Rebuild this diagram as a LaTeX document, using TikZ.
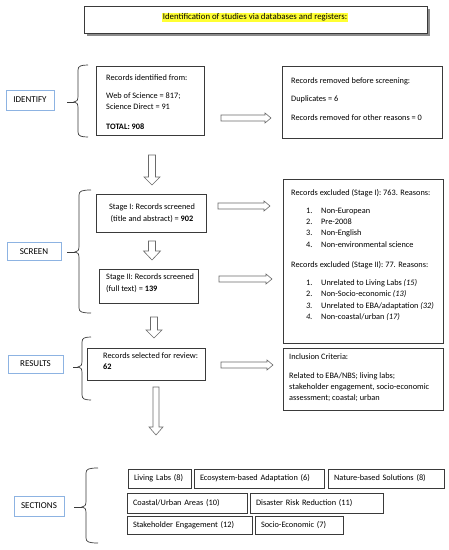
\documentclass[tikz,border=0pt]{standalone}
\usepackage{fontspec}
\setmainfont{Carlito}
\usetikzlibrary{calc}
\definecolor{lblblue}{HTML}{8DB3E2}
\definecolor{boxline}{HTML}{3A3A3A}
\definecolor{arrline}{HTML}{6A6A6A}
\definecolor{hl}{HTML}{FFFF33}
\newcommand\rblock[3]{% x1, x2, y
  \draw[blk] (#1,#3-3) -- (#2-6,#3-3) -- (#2-6,#3-5) -- (#2,#3) -- (#2-6,#3+5) -- (#2-6,#3+3) -- (#1,#3+3) -- cycle;}
\newcommand\dblock[6]{% xc, ytop, yhead, ytip, shaft half, head half
  \draw[blk] (#1-#5,#2) -- (#1+#5,#2) -- (#1+#5,#3) -- (#1+#6,#3) -- (#1,#4) -- (#1-#6,#3) -- (#1-#5,#3) -- cycle;}
\newcommand\wbrace[7]{% name, xv, ytop, ytip, ybot, xend, xline
  \coordinate (#1) at (#7,#4);
  \draw[brc] (#6,#3) .. controls ({#2+3},#3) and (#2,{#3+1}) .. (#2,{#3+5})
     -- (#2,{#4-6}) .. controls (#2,{#4-2}) and ({#2-1},#4) .. ({#2-4},#4)
     .. controls ({#2-1},#4) and (#2,{#4+2}) .. (#2,{#4+6})
     -- (#2,{#5-5}) .. controls (#2,{#5-1}) and ({#2+3},#5) .. (#6,#5);
  \draw[brc] (#1) -- ({#2-4},#4);}
\begin{document}
\begin{tikzpicture}[x=1pt,y=-1pt,
  box/.style={draw=boxline, line width=0.7pt, inner sep=0pt, fill=white},
  lbl/.style={draw=lblblue, line width=0.9pt, inner sep=0pt, font=\fontsize{9}{11}\selectfont},
  txt/.style={inner sep=0pt, font=\fontsize{8.3}{11}\selectfont, anchor=base west},
  ctxt/.style={inner sep=0pt, font=\fontsize{8.3}{11}\selectfont, anchor=base},
  sec/.style={draw=boxline, line width=0.7pt, inner xsep=6pt, inner ysep=0pt, align=left, font=\fontsize{8.3}{11}\selectfont},
  blk/.style={draw=arrline, line width=0.6pt, fill=white},
  brc/.style={draw=boxline, line width=0.7pt}]
\useasboundingbox (0,0) rectangle (449,550);
\fill[white] (0,0) rectangle (449,550);

% title
\fill[black!45] (86.5,8.5) rectangle (429.5,35.5);
\node[box, minimum width=343pt, minimum height=27pt] (title) at (255.5,19.5) {};
\node[fill=hl, inner xsep=0.5pt, inner ysep=0.8pt, font=\fontsize{8.8}{11}\selectfont] (titletxt) at (255,17.5) {Identification of studies via databases and registers:};

% identify
\node[lbl, minimum width=48pt, minimum height=20pt] (idl) at (30,100) {IDENTIFY};
\node[box, minimum width=108pt, minimum height=69pt] (rid) at (150,100.5) {};
\node[txt] (rid1) at (106,80.7) {Records identified from:};
\node[txt] (rid2) at (106,98.7) {Web of Science = 817;};
\node[txt] (rid3) at (106,109.7) {Science Direct = 91};
\node[txt] (rid4) at (106,129.7) {\textbf{TOTAL: 908}};
\node[box, minimum width=160pt, minimum height=72pt] (rrem) at (362,102) {};
\node[txt] (rrem1) at (291,83.7) {Records removed before screening:};
\node[txt] (rrem2) at (291,101.7) {Duplicates = 6};
\node[txt] (rrem3) at (291,120.7) {Records removed for other reasons = 0};
\wbrace{bid}{78}{65}{102}{137}{88}{67}

% screen
\node[lbl, minimum width=54pt, minimum height=18pt] (scl) at (34,251.7) {SCREEN};
\node[box, minimum width=110pt, minimum height=38pt] (s1) at (151,213) {};
\node[ctxt] (s1a) at (152,209.7) {Stage I: Records screened};
\node[ctxt] (s1b) at (152,221.7) {(title and abstract) = \textbf{902}};
\node[box, minimum width=99pt, minimum height=34pt] (s2) at (148.5,286) {};
\node[txt] (s2a) at (106,279.7) {Stage II: Records screened};
\node[txt] (s2b) at (106,291.7) {(full text) = \textbf{139}};
\node[box, minimum width=160pt, minimum height=164pt] (ex) at (363,261) {};
\node[txt] (exh1) at (291,195.7) {Records excluded (Stage I): 763. Reasons:};
\node[txt] (exn1) at (306,213.7) {1.};
\node[txt] (exi1) at (321,213.7) {Non-European};
\node[txt] (exn2) at (306,224.7) {2.};
\node[txt] (exi2) at (321,224.7) {Pre-2008};
\node[txt] (exn3) at (306,235.7) {3.};
\node[txt] (exi3) at (321,235.7) {Non-English};
\node[txt] (exn4) at (306,247.7) {4.};
\node[txt] (exi4) at (321,247.7) {Non-environmental science};
\node[txt] (exh2) at (291,267.7) {Records excluded (Stage II): 77. Reasons:};
\node[txt] (exm1) at (306,285.7) {1.};
\node[txt] (exj1) at (321,285.7) {Unrelated to Living Labs \textit{(15)}};
\node[txt] (exm2) at (306,296.7) {2.};
\node[txt] (exj2) at (321,296.7) {Non-Socio-economic \textit{(13)}};
\node[txt] (exm3) at (306,308.7) {\textit{3.}};
\node[txt] (exj3) at (321,308.7) {Unrelated to EBA/adaptation \textit{(32)}};
\node[txt] (exm4) at (306,319.7) {\textit{4.}};
\node[txt] (exj4) at (321,319.7) {Non-coastal/urban \textit{(17)}};
\wbrace{bsc}{79}{190}{252}{313}{91}{67}

% results
\node[lbl, minimum width=55pt, minimum height=18pt] (rsl) at (35.5,364) {RESULTS};
\node[box, minimum width=118pt, minimum height=32pt] (sel) at (146,364) {};
\node[txt] (sel1) at (103,358.7) {Records selected for review:};
\node[txt] (sel2) at (103,369.7) {\textbf{62}};
\node[box, minimum width=160pt, minimum height=62pt] (inc) at (363,379) {};
\node[txt] (inc1) at (289,359.7) {Inclusion Criteria:};
\node[txt] (inc2) at (289,378.7) {Related to EBA/NBS; living labs;};
\node[txt] (inc3) at (289,389.7) {stakeholder engagement, socio-economic};
\node[txt] (inc4) at (289,400.7) {assessment; coastal; urban};
\wbrace{brs}{82}{337}{367}{400}{91}{73}

% sections
\node[lbl, minimum width=50pt, minimum height=20pt] (sel0) at (39,506) {SECTIONS};
\node[sec, text width=51pt, minimum height=19pt] (ll) at (159.5,478.5) {Living Labs (8)};
\node[sec, text width=118pt, minimum height=19pt] (eba) at (259,478.5) {Ecosystem-based Adaptation (6)};
\node[sec, text width=104pt, minimum height=19pt] (nbs) at (386,478.5) {Nature-based Solutions (8)};
\node[sec, text width=108pt, minimum height=20pt] (cu) at (187,503) {Coastal/Urban Areas (10)};
\node[sec, text width=121pt, minimum height=20pt] (drr) at (316.5,503) {Disaster Risk Reduction (11)};
\node[sec, text width=113pt, minimum height=18pt] (se) at (189.5,525) {Stakeholder Engagement (12)};
\node[sec, text width=76pt, minimum height=18pt] (soe) at (299,525) {Socio-Economic (7)};
\wbrace{bse}{86}{468}{507}{543}{98}{74}

% block arrows
\rblock{221}{271}{118}
\rblock{218}{270}{206}
\rblock{219}{272}{279}
\rblock{221}{273}{365}
\dblock{152}{155}{177}{185}{3.5}{8}
\dblock{152}{241}{251}{260}{3.5}{8.5}
\dblock{154}{317}{330}{338}{3.5}{8}
\dblock{156}{387}{427}{435}{3}{7}
\end{tikzpicture}
\end{document}
